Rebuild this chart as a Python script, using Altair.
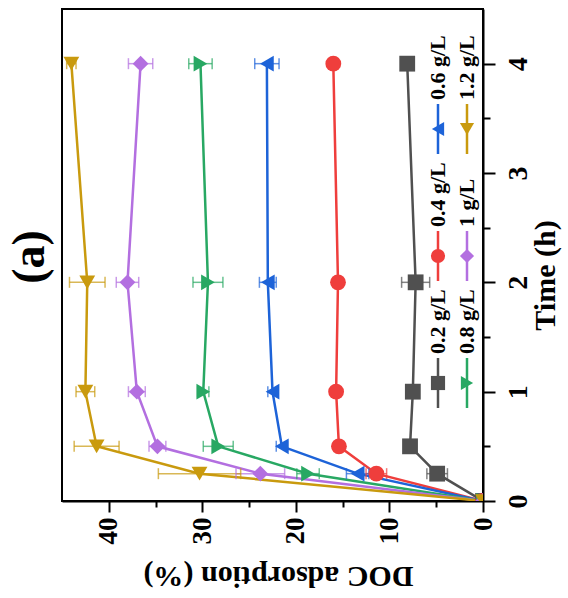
import altair as alt
import pandas as pd

times = [0, 0.25, 0.5, 1, 2, 4]
series_names = ["0.2 g/L", "0.4 g/L", "0.6 g/L", "0.8 g/L", "1 g/L", "1.2 g/L"]
doc_02 = [0, 4.9, 7.8, 7.5, 7.2, 8.1]
doc_04 = [0, 11.4, 15.4, 15.7, 15.5, 16.0]
doc_06 = [0, 13.4, 21.5, 22.5, 23.0, 23.1]
doc_08 = [0, 18.7, 28.3, 29.9, 29.4, 30.2]
doc_10 = [0, 23.8, 34.8, 37.0, 38.0, 36.6]
doc_12 = [0, 30.3, 41.3, 42.5, 42.3, 44.0]
err_02 = [0, 1.1, 0.3, 0.6, 1.5, 0.3]
err_04 = [0, 1.1, 0.3, 0.3, 0.3, 0.3]
err_06 = [0, 1.2, 0.6, 0.5, 0.9, 1.3]
err_08 = [0, 1.2, 1.6, 0.6, 1.6, 1.25]
err_10 = [0, 2.6, 0.9, 0.9, 1.2, 1.3]
err_12 = [0, 4.4, 2.4, 1.0, 1.9, 0.5]
colors = ["#505050", "#EF3E3C", "#1D63D8", "#28A863", "#B36FE0", "#C99A0E"]
shapes = ["square", "circle", "triangle-left", "triangle-right", "diamond", "triangle-down"]

all_doc = [doc_02, doc_04, doc_06, doc_08, doc_10, doc_12]
all_err = [err_02, err_04, err_06, err_08, err_10, err_12]
rows = []
for name, ds, es in zip(series_names, all_doc, all_err):
    for t, d, e in zip(times, ds, es):
        rows.append({"series": name, "time": t, "doc": d, "err": e})
df = pd.DataFrame(rows)
df["lo"] = df["doc"] - df["err"]
df["hi"] = df["doc"] + df["err"]
eb = df[df["err"] > 0]

leg = pd.DataFrame({"series": series_names, "idx": list(range(6))})

FONT = "Liberation Serif"
cscale = alt.Scale(domain=series_names, range=colors)
sscale = alt.Scale(domain=series_names, range=shapes)

xscale = alt.Scale(domain=[0, 45], reverse=True, nice=False, zero=False)
yscale = alt.Scale(domain=[0, 4.5], nice=False, zero=False)

xaxis = alt.Axis(
    values=[0, 5, 10, 15, 20, 25, 30, 35, 40],
    labelExpr="datum.value % 10 === 0 ? '' + datum.value : ''",
    tickSize={"condition": {"test": "datum.value % 10 === 0", "value": 11}, "value": 6},
    labelAngle=270, labelAlign="right", labelBaseline="middle", labelPadding=5,
    labelFontSize=27, title="DOC adsorption (%)", titleAngle=180, titleX=216, titleY=74,
    titleAlign="center", titleBaseline="middle", titleFontSize=30,
)
yaxis = alt.Axis(
    orient="right",
    values=[0, 0.5, 1, 1.5, 2, 2.5, 3, 3.5, 4],
    labelExpr="datum.value % 1 === 0 ? '' + datum.value : ''",
    tickSize={"condition": {"test": "datum.value % 1 === 0", "value": 12}, "value": 7},
    labelAngle=270, labelAlign="center", labelBaseline="top", labelPadding=9,
    labelFontSize=28, title="Time (h)", titleAngle=270, titleX=62, titleY=266,
    titleAlign="center", titleBaseline="middle", titleFontSize=30,
)

base = alt.Chart(df)
X = alt.X("doc:Q", scale=xscale, axis=xaxis)
Y = alt.Y("time:Q", scale=yscale, axis=yaxis)
C = alt.Color("series:N", scale=cscale, legend=None)

lines = base.mark_line(strokeWidth=2.5, clip=True).encode(
    x=X, y=Y, color=C, order=alt.Order("time:Q"), detail="series:N"
)
bars = alt.Chart(eb).mark_rule(strokeWidth=1.5, opacity=0.7, clip=True).encode(
    x=alt.X("lo:Q", scale=xscale), x2="hi:Q", y=alt.Y("time:Q", scale=yscale), color=C
)
cap_lo = alt.Chart(eb).mark_tick(orient="vertical", size=11, thickness=1.5, opacity=0.7, clip=True).encode(
    x=alt.X("lo:Q", scale=xscale), y=alt.Y("time:Q", scale=yscale), color=C
)
cap_hi = alt.Chart(eb).mark_tick(orient="vertical", size=11, thickness=1.5, opacity=0.7, clip=True).encode(
    x=alt.X("hi:Q", scale=xscale), y=alt.Y("time:Q", scale=yscale), color=C
)
points = base.mark_point(filled=True, opacity=1, size=250, clip=True).encode(
    x=X, y=Y, color=C, shape=alt.Shape("series:N", scale=sscale, legend=None)
)

lbase = alt.Chart(leg).transform_calculate(
    px="376 + floor(datum.idx / 3) * 29",
    py="374 - (datum.idx % 3) * 127",
    py1="374 - (datum.idx % 3) * 127 - 25",
    py2="374 - (datum.idx % 3) * 127 + 25",
    ty="374 - (datum.idx % 3) * 127 - 29",
)
LX = alt.X("px:Q", scale=None, axis=None)
leg_lines = lbase.mark_rule(strokeWidth=2.5).encode(
    x=LX, y=alt.Y("py1:Q", scale=None, axis=None), y2="py2:Q", color=C
)
leg_pts = lbase.mark_point(filled=True, opacity=1, size=200).encode(
    x=LX, y=alt.Y("py:Q", scale=None, axis=None), color=C,
    shape=alt.Shape("series:N", scale=sscale, legend=None),
)
leg_text = lbase.mark_text(
    angle=270, align="left", baseline="middle", font=FONT, fontWeight="bold", fontSize=22, color="black"
).encode(x=LX, y=alt.Y("ty:Q", scale=None, axis=None), text="series:N")

label_a = alt.Chart(pd.DataFrame({"t": ["(a)"]})).mark_text(
    angle=270, align="center", baseline="middle", font=FONT, fontWeight="bold", fontSize=46, color="black"
).encode(x=alt.value(-32), y=alt.value(248), text="t:N")

chart = alt.layer(
    lines, bars, cap_lo, cap_hi, points, leg_lines, leg_pts, leg_text, label_a
).properties(
    width=421, height=492,
    autosize=alt.AutoSizeParams(type="none"),
    padding={"left": 62, "top": 9, "right": 85, "bottom": 97},
    background="white",
).configure_view(
    stroke="black", strokeWidth=2
).configure_axis(
    grid=False, domainColor="black", domainWidth=2, tickColor="black", tickWidth=2,
    labelFont=FONT, labelFontWeight="bold", labelColor="black",
    titleFont=FONT, titleFontWeight="bold", titleColor="black",
)

chart.save("out.html", embed_options={"renderer": "svg", "actions": False})
